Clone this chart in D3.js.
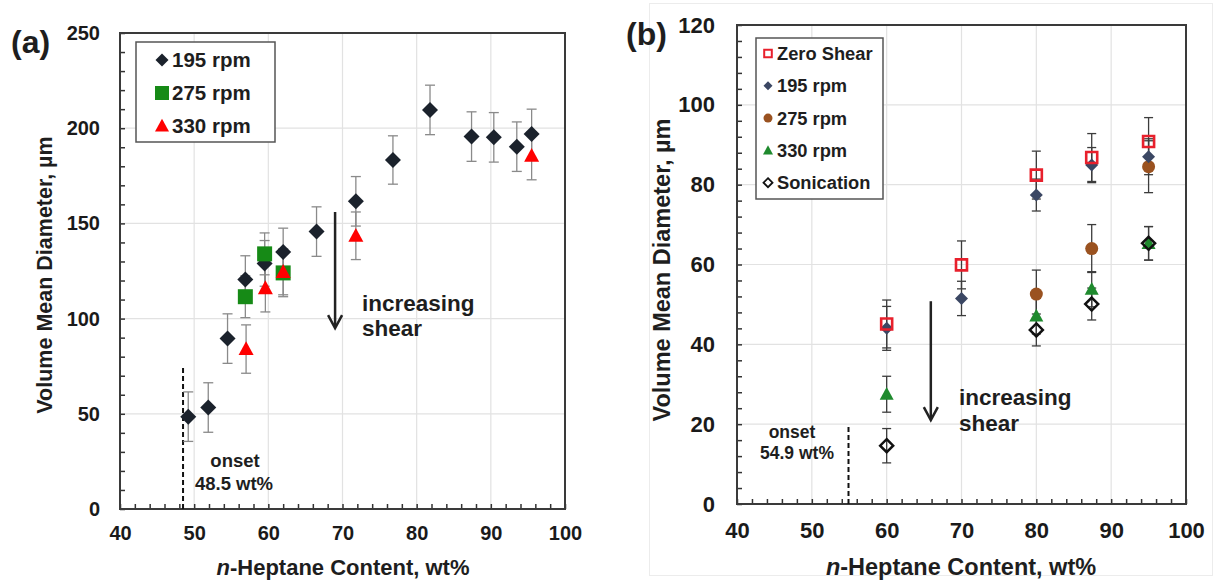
<!DOCTYPE html>
<html><head><meta charset="utf-8">
<script src="https://cdn.jsdelivr.net/npm/d3@7"></script>
<style>body{margin:0;background:#fff}svg{display:block}</style>
</head><body>
<script>
// ---------- data ----------
const xTicks = [40, 50, 60, 70, 80, 90, 100];
const aYTicks = [0, 50, 100, 150, 200, 250];
const bYTicks = [0, 20, 40, 60, 80, 100, 120];

// Panel (a)
const a195X = [49.2, 51.9, 54.5, 56.9, 59.5, 62.0, 66.5, 71.8, 76.8, 81.8, 87.4, 90.4, 93.5, 95.5];
const a195Y = [48.5, 53.3, 89.5, 120.5, 129, 135, 145.7, 161.6, 183.3, 209.6, 195.6, 195.2, 190.3, 197];
const a195E = [13, 13, 13, 12.5, 12, 12.5, 13, 13, 12.7, 13, 13, 13, 13, 13];
const a275X = [56.9, 59.5, 62.0];
const a275Y = [111.5, 134, 124];
const a275E = [11, 11, 12.5];
const a330X = [57.0, 59.6, 62.0, 71.8, 95.5];
const a330Y = [84, 116, 124.5, 143.5, 185.5];
const a330E = [12.7, 12.5, 12, 12.5, 12.6];
const aLegend = ["195 rpm", "275 rpm", "330 rpm"];

// Panel (b)
const bZeroX = [60, 70, 80, 87.4, 95];
const bZeroY = [45.1, 59.9, 82.4, 86.8, 90.8];
const bZeroE = [6, 6, 6, 6, 6];
const b195X = [60, 70, 80, 87.4, 95];
const b195Y = [44.0, 51.5, 77.4, 84.9, 87.0];
const b195E = [5.5, 4.3, 4, 4.4, 4.5];
const b275X = [80, 87.4, 95];
const b275Y = [52.6, 64.0, 84.5];
const b275E = [6, 6, 6.5];
const b330X = [60, 80, 87.4, 95];
const b330Y = [27.5, 47.1, 53.8, 65.3];
const b330E = [4.5, 4.5, 4.4, 4.2];
const bSonX = [60, 80, 87.4, 95];
const bSonY = [14.6, 43.6, 50.1, 65.3];
const bSonE = [4.3, 4, 4, 4.2];
const bLegend = ["Zero Shear", "195 rpm", "275 rpm", "330 rpm", "Sonication"];

// annotations (data units)
const aOnset = 48.5, aOnsetTop = 75;
const bOnset = 54.9, bOnsetTop = 20;

// ---------- drawing ----------
const FONT = "'Liberation Sans', Arial, Helvetica, sans-serif";
const svg = d3.select("body").append("svg").attr("width", 1216).attr("height", 581)
  .style("font-family", FONT);

// faint frame around panel (b) image
svg.append("rect").attr("x", 649.5).attr("y", 3.5).attr("width", 563).attr("height", 572)
  .attr("fill", "none").attr("stroke", "#ececec");

function shape(type, s) {
  if (type === "diamond") return `M0,${-s}L${s},0L0,${s}L${-s},0Z`;
  if (type === "square") return `M${-s},${-s}h${2*s}v${2*s}h${-2*s}Z`;
  if (type === "triangle") return `M0,${-s*1.05}L${s},${s*0.8}L${-s},${s*0.8}Z`;
  if (type === "circle") return d3.arc()({innerRadius:0, outerRadius:s, startAngle:0, endAngle:2*Math.PI});
}

function frame(g, x, y, yTicks, yMinorStep, fs, ypad) {
  const [x0, x1] = x.range(), [y0, y1] = y.range();
  g.append("g").selectAll("line.vg").data(xTicks.slice(1, -1)).join("line")
    .attr("x1", d => x(d)).attr("x2", d => x(d)).attr("y1", y0).attr("y2", y1)
    .attr("stroke", "#e2e2e2").attr("stroke-width", 1.2);
  g.append("g").selectAll("line.hg").data(yTicks.slice(1, -1)).join("line")
    .attr("y1", d => y(d)).attr("y2", d => y(d)).attr("x1", x0).attr("x2", x1)
    .attr("stroke", "#e2e2e2").attr("stroke-width", 1.2);
  const ymax = y.domain()[1];
  const ax1 = g.append("g").attr("transform", `translate(${x0},0)`)
    .call(d3.axisLeft(y).tickValues(d3.range(0, ymax + 0.001, yMinorStep)).tickSize(-5).tickFormat(""));
  const ax2 = g.append("g").attr("transform", `translate(0,${y0})`)
    .call(d3.axisBottom(x).tickValues(d3.range(40, 100.001, 2)).tickSize(-5).tickFormat(""));
  [ax1, ax2].forEach(a => { a.select(".domain").remove(); a.selectAll("line").attr("stroke", "#333").attr("stroke-width", 1.5); });
  const ly = g.append("g").attr("transform", `translate(${x0},0)`)
    .call(d3.axisLeft(y).tickValues(yTicks).tickSize(0).tickPadding(ypad));
  const lx = g.append("g").attr("transform", `translate(0,${y0})`)
    .call(d3.axisBottom(x).tickValues(xTicks).tickSize(0).tickPadding(fs * 0.85));
  [ly, lx].forEach(a => {
    a.select(".domain").remove();
    a.selectAll("text").attr("font-size", fs).attr("font-weight", "bold").attr("fill", "#1a1a1a")
      .attr("font-family", FONT);
  });
  g.append("rect").attr("x", x0).attr("y", y1).attr("width", x1 - x0).attr("height", y0 - y1)
    .attr("fill", "none").attr("stroke", "#3a3a3a").attr("stroke-width", 2);
}

function errorBars(g, x, y, xs, ys, es, color, cap, w) {
  const d = xs.map((v, i) => ({x: v, y: ys[i], e: es[i]}));
  const eg = g.append("g").attr("stroke", color).attr("stroke-width", w);
  eg.selectAll("line.v").data(d).join("line")
    .attr("x1", p => x(p.x)).attr("x2", p => x(p.x)).attr("y1", p => y(p.y - p.e)).attr("y2", p => y(p.y + p.e));
  eg.selectAll("line.t").data(d).join("line")
    .attr("x1", p => x(p.x) - cap).attr("x2", p => x(p.x) + cap).attr("y1", p => y(p.y + p.e)).attr("y2", p => y(p.y + p.e));
  eg.selectAll("line.b").data(d).join("line")
    .attr("x1", p => x(p.x) - cap).attr("x2", p => x(p.x) + cap).attr("y1", p => y(p.y - p.e)).attr("y2", p => y(p.y - p.e));
}

function markers(g, x, y, xs, ys, type, s, fill, stroke, sw) {
  g.append("g").selectAll("path").data(xs.map((v, i) => [v, ys[i]])).join("path")
    .attr("d", shape(type, s))
    .attr("transform", p => `translate(${x(p[0])},${y(p[1])})`)
    .attr("fill", fill).attr("stroke", stroke || "none").attr("stroke-width", sw || 0);
}

function arrow(g, x, y, xv, yTop, yBot, col) {
  const px = x(xv), t = y(yTop), b = y(yBot);
  g.append("line").attr("x1", px).attr("x2", px).attr("y1", t).attr("y2", b - 1)
    .attr("stroke", col).attr("stroke-width", 2.5);
  g.append("path").attr("d", `M${px - 7},${b - 13}L${px},${b}L${px + 7},${b - 13}`)
    .attr("fill", "none").attr("stroke", col).attr("stroke-width", 2.5);
}

function onsetLine(g, x, y, xv, top) {
  g.append("line").attr("x1", x(xv)).attr("x2", x(xv)).attr("y1", y(0)).attr("y2", y(top))
    .attr("stroke", "#111").attr("stroke-width", 2).attr("stroke-dasharray", "5,3");
}

function text(g, t, px, py, fs, anchor) {
  return g.append("text").attr("x", px).attr("y", py).attr("font-size", fs)
    .attr("font-weight", "bold").attr("fill", "#1e1e1e").attr("text-anchor", anchor || "start").text(t);
}

function xTitle(g, cx, cy, fs) {
  const t = g.append("text").attr("x", cx).attr("y", cy).attr("text-anchor", "middle")
    .attr("font-size", fs).attr("font-weight", "bold").attr("fill", "#1e1e1e");
  t.append("tspan").attr("font-style", "italic").text("n");
  t.append("tspan").text("-Heptane Content, wt%");
}
function yTitle(g, cx, cy, fs) {
  g.append("text").attr("transform", `translate(${cx},${cy}) rotate(-90)`).attr("text-anchor", "middle")
    .attr("font-size", fs).attr("font-weight", "bold").attr("fill", "#1e1e1e")
    .text("Volume Mean Diameter, \u00b5m");
}

// ----- Panel (a) -----
const ax = d3.scaleLinear().domain([40, 100]).range([120, 565]);
const ay = d3.scaleLinear().domain([0, 250]).range([509, 33]);
const ga = svg.append("g");
frame(ga, ax, ay, aYTicks, 10, 20, 20);
onsetLine(ga, ax, ay, aOnset, aOnsetTop);
errorBars(ga, ax, ay, a195X, a195Y, a195E, "#8a8a8a", 5, 1.3);
errorBars(ga, ax, ay, a275X, a275Y, a275E, "#8a8a8a", 5, 1.3);
errorBars(ga, ax, ay, a330X, a330Y, a330E, "#8a8a8a", 5, 1.3);
markers(ga, ax, ay, a195X, a195Y, "diamond", 8, "#1b222c");
markers(ga, ax, ay, a275X, a275Y, "square", 7.5, "#168a16");
markers(ga, ax, ay, a330X, a330Y, "triangle", 7.5, "#ff0000");
arrow(ga, ax, ay, 69, 156, 95, "#222");
text(ga, "increasing", 362, 311, 22.5);
text(ga, "shear", 362, 336, 22.5);
text(ga, "onset", 235, 467, 18.5, "middle");
text(ga, "48.5 wt%", 234, 490, 18.5, "middle");
text(ga, "(a)", 11, 53, 32);
xTitle(ga, 343, 575, 22);
yTitle(ga, 52, 275, 21.5);
// legend (a)
const la = ga.append("g");
la.append("rect").attr("x", 136).attr("y", 42).attr("width", 139).attr("height", 100)
  .attr("fill", "#fff").attr("stroke", "#555").attr("stroke-width", 1.5);
const aLegShapes = [["diamond", 6.5, "#1b222c"], ["square", 7, "#168a16"], ["triangle", 7, "#ff0000"]];
aLegend.forEach((name, i) => {
  const yy = 60 + i * 33;
  la.append("path").attr("d", shape(aLegShapes[i][0], aLegShapes[i][1]))
    .attr("transform", `translate(162,${yy})`).attr("fill", aLegShapes[i][2]);
  text(la, name, 172, yy + 7, 20.5);
});

// ----- Panel (b) -----
const bx = d3.scaleLinear().domain([40, 100]).range([737, 1186]);
const by = d3.scaleLinear().domain([0, 120]).range([504, 25]);
const gb = svg.append("g");
frame(gb, bx, by, bYTicks, 4, 22, 22);
onsetLine(gb, bx, by, bOnset, bOnsetTop);
errorBars(gb, bx, by, b275X, b275Y, b275E, "#3c3c3c", 4.5, 1.3);
errorBars(gb, bx, by, b330X, b330Y, b330E, "#3c3c3c", 4.5, 1.3);
errorBars(gb, bx, by, bSonX, bSonY, bSonE, "#3c3c3c", 4.5, 1.3);
errorBars(gb, bx, by, b195X, b195Y, b195E, "#3c3c3c", 4.5, 1.3);
errorBars(gb, bx, by, bZeroX, bZeroY, bZeroE, "#3c3c3c", 4.5, 1.3);
markers(gb, bx, by, b275X, b275Y, "circle", 6.5, "#9a5220");
markers(gb, bx, by, b330X, b330Y, "triangle", 7, "#1f8a2e");
markers(gb, bx, by, bSonX, bSonY, "diamond", 6.5, "none", "#111", 2.5);
markers(gb, bx, by, b195X, b195Y, "diamond", 6.5, "#3b4763");
markers(gb, bx, by, bZeroX, bZeroY, "square", 5.5, "none", "#e8202c", 2.6);
arrow(gb, bx, by, 65.9, 50.8, 21, "#222");
text(gb, "increasing", 959, 405, 22.5);
text(gb, "shear", 959, 431, 22.5);
text(gb, "onset", 792, 438, 17.5, "middle");
text(gb, "54.9 wt%", 797, 459, 17.5, "middle");
text(gb, "(b)", 626, 45, 32);
xTitle(gb, 961, 575, 23.5);
yTitle(gb, 670, 270, 23.5);
// legend (b)
const lb = gb.append("g");
lb.append("rect").attr("x", 756).attr("y", 38).attr("width", 127).attr("height", 161)
  .attr("fill", "#fff").attr("stroke", "#555").attr("stroke-width", 1.5);
const bLegShapes = [
  ["square", 3.8, "none", "#e8202c", 2],
  ["diamond", 4.5, "#3b4763"],
  ["circle", 4.5, "#9a5220"],
  ["triangle", 5, "#1f8a2e"],
  ["diamond", 4.5, "none", "#111", 1.8]
];
bLegend.forEach((name, i) => {
  const yy = 53.5 + i * 32.3;
  const s = bLegShapes[i];
  lb.append("path").attr("d", shape(s[0], s[1])).attr("transform", `translate(768,${yy})`)
    .attr("fill", s[2]).attr("stroke", s[3] || "none").attr("stroke-width", s[4] || 0);
  text(lb, name, 777, yy + 6.5, 18.3);
});
</script>
</body></html>
